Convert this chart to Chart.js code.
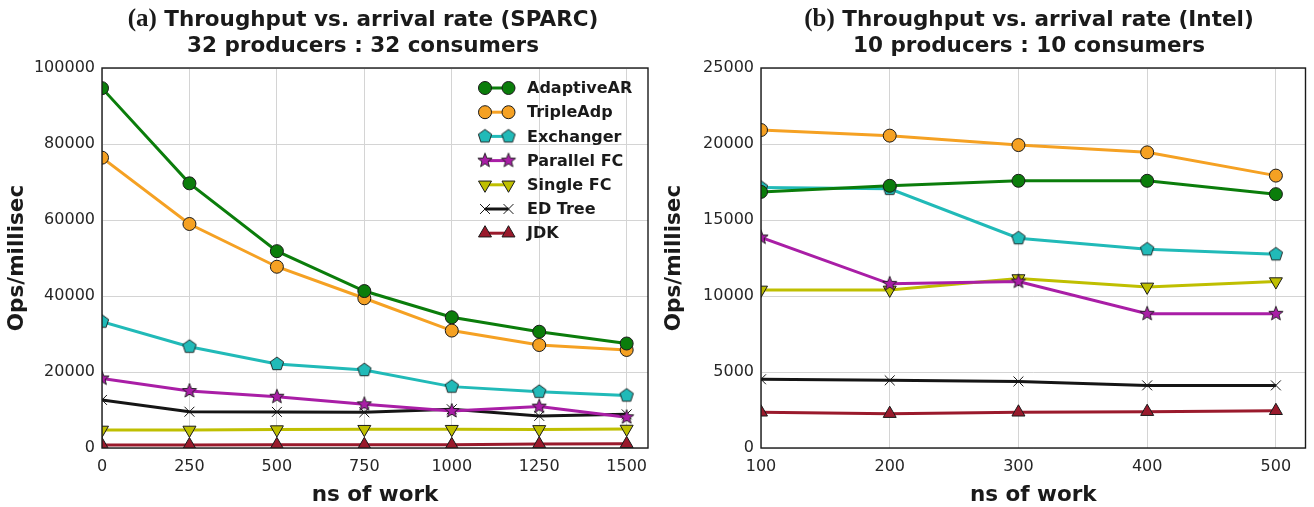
<!DOCTYPE html>
<html>
<head>
<meta charset="utf-8">
<script src="https://cdn.jsdelivr.net/npm/chart.js@4.4.1/dist/chart.umd.min.js"></script>
<style>
  html, body { margin: 0; padding: 0; background: #ffffff; }
  #wrap { position: relative; width: 1314px; height: 507px; overflow: hidden; }
  canvas { position: absolute; top: 0; }
</style>
</head>
<body>
<div id="wrap">
  <canvas id="chartSparc" width="657" height="507" style="left:0px"></canvas>
  <canvas id="chartIntel" width="657" height="507" style="left:657px"></canvas>
</div>
<script>
// ---- data -------------------------------------------------------------
const seriesNames = ['AdaptiveAR', 'TripleAdp', 'Exchanger', 'Parallel FC', 'Single FC', 'ED Tree', 'JDK'];

// (a) SPARC, 32 producers : 32 consumers
const workSparc = [0, 250, 500, 750, 1000, 1250, 1500];
const sparcAdaptiveAR = [94700, 69650, 51800, 41300, 34400, 30600, 27500];
const sparcTripleAdp  = [76400, 58950, 47700, 39400, 30900, 27100, 25800];
const sparcExchanger  = [33250, 26650, 22100, 20500, 16150, 14800, 13800];
const sparcParallelFC = [18300, 15000, 13500, 11500, 9750, 10900, 8100];
const sparcSingleFC   = [4750, 4750, 4850, 4950, 4950, 4900, 5000];
const sparcEDTree     = [12650, 9550, 9500, 9400, 10200, 8450, 8850];
const sparcJDK        = [800, 800, 850, 850, 850, 1050, 1100];

// (b) Intel, 10 producers : 10 consumers
const workIntel = [100, 200, 300, 400, 500];
const intelAdaptiveAR = [16850, 17250, 17580, 17580, 16700];
const intelTripleAdp  = [20920, 20550, 19930, 19450, 17920];
const intelExchanger  = [17130, 17050, 13800, 13070, 12740];
const intelParallelFC = [13850, 10800, 10950, 8830, 8830];
const intelSingleFC   = [10400, 10400, 11150, 10600, 10950];
const intelEDTree     = [4520, 4450, 4380, 4120, 4120];
const intelJDK        = [2350, 2260, 2350, 2390, 2450];

// tick labels
const xTicksSparc = [0, 250, 500, 750, 1000, 1250, 1500];
const yTicksSparc = [0, 20000, 40000, 60000, 80000, 100000];
const xTicksIntel = [100, 200, 300, 400, 500];
const yTicksIntel = [0, 5000, 10000, 15000, 20000, 25000];

// ---- marker shapes ------------------------------------------------------
function polygonMarker(points, fill) {
  const c = document.createElement('canvas');
  c.width = 18; c.height = 18;
  const g = c.getContext('2d');
  g.beginPath();
  points.forEach(([px, py], i) => { if (i === 0) g.moveTo(9 + px, 9 + py); else g.lineTo(9 + px, 9 + py); });
  g.closePath();
  g.fillStyle = fill; g.fill();
  g.lineWidth = 0.9; g.strokeStyle = '#1a1a1a'; g.stroke();
  return c;
}
function pentagon(r, fill) {
  const pts = [];
  for (let k = 0; k < 5; k++) {
    const a = -Math.PI / 2 + k * 2 * Math.PI / 5;
    pts.push([r * Math.cos(a), r * Math.sin(a)]);
  }
  return polygonMarker(pts, fill);
}
function star(ro, ri, fill) {
  const pts = [];
  for (let k = 0; k < 10; k++) {
    const a = -Math.PI / 2 + k * Math.PI / 5;
    const r = k % 2 === 0 ? ro : ri;
    pts.push([r * Math.cos(a), r * Math.sin(a)]);
  }
  return polygonMarker(pts, fill);
}

const palette = {
  AdaptiveAR: '#0b7d0b',
  TripleAdp: '#f5a123',
  Exchanger: '#21bab8',
  ParallelFC: '#a91ea6',
  SingleFC: '#bfbf00',
  EDTree: '#151515',
  JDK: '#9a1a2c'
};

const styles = [
  { color: palette.AdaptiveAR, pointStyle: 'circle', radius: 6.5, rotation: 0, fill: palette.AdaptiveAR },
  { color: palette.TripleAdp, pointStyle: 'circle', radius: 6.5, rotation: 0, fill: palette.TripleAdp },
  { color: palette.Exchanger, pointStyle: pentagon(7, palette.Exchanger), radius: 7, rotation: 0, fill: palette.Exchanger },
  { color: palette.ParallelFC, pointStyle: star(7.5, 3.2, palette.ParallelFC), radius: 7, rotation: 0, fill: palette.ParallelFC },
  { color: palette.SingleFC, pointStyle: 'triangle', radius: 7.5, rotation: 180, fill: palette.SingleFC },
  { color: palette.EDTree, pointStyle: 'crossRot', radius: 7, rotation: 0, fill: palette.EDTree },
  { color: palette.JDK, pointStyle: 'triangle', radius: 7.5, rotation: 0, fill: palette.JDK }
];

function buildDatasets(xs, seriesList) {
  return seriesList.map((vals, i) => {
    const s = styles[i];
    return {
      label: seriesNames[i],
      data: xs.map((x, j) => ({ x: x, y: vals[j] })),
      borderColor: s.color,
      backgroundColor: s.fill,
      borderWidth: 3,
      pointStyle: s.pointStyle,
      pointRadius: s.radius,
      pointRotation: s.rotation,
      pointBackgroundColor: s.fill,
      pointBorderColor: s.pointStyle === 'crossRot' ? '#151515' : '#1a1a1a',
      pointBorderWidth: 1,
      tension: 0,
      fill: false
    };
  });
}

// ---- plugins -----------------------------------------------------------
const FONT = '"DejaVu Sans", sans-serif';

const frameTitlePlugin = {
  id: 'frameTitle',
  afterDraw(chart, args, opts) {
    const ctx = chart.ctx;
    const a = chart.chartArea;
    ctx.save();
    // axes frame on all four sides
    ctx.strokeStyle = '#1a1a1a';
    ctx.lineWidth = 1.4;
    ctx.strokeRect(a.left, a.top, a.right - a.left, a.bottom - a.top);
    // two-line title with a serif panel tag
    ctx.fillStyle = '#1a1a1a';
    ctx.textBaseline = 'middle';
    ctx.textAlign = 'left';
    const serif = 'bold 25px "Liberation Serif", serif';
    const sans = 'bold 21.5px ' + FONT;
    ctx.font = serif;
    const wTag = ctx.measureText(opts.tag).width;
    ctx.font = sans;
    const wSp = ctx.measureText(' ').width;
    const wMain = ctx.measureText(opts.main).width;
    const x0 = opts.cx - (wTag + wSp + wMain) / 2;
    ctx.font = serif;
    ctx.fillText(opts.tag, x0, opts.y1);
    ctx.font = sans;
    ctx.fillText(opts.main, x0 + wTag + wSp, opts.y1);
    ctx.textAlign = 'center';
    ctx.fillText(opts.sub, opts.cx, opts.y2);
    ctx.restore();
  }
};

const pairLegendPlugin = {
  id: 'pairLegend',
  afterDatasetsDraw(chart, args, opts) {
    if (!opts || !opts.show) return;
    const ctx = chart.ctx;
    ctx.save();
    chart.data.datasets.forEach((ds, i) => {
      const y = opts.y0 + i * opts.step;
      ctx.strokeStyle = ds.borderColor;
      ctx.lineWidth = 3;
      ctx.beginPath();
      ctx.moveTo(opts.xa, y);
      ctx.lineTo(opts.xb, y);
      ctx.stroke();
      [opts.xa, opts.xb].forEach(x => {
        ctx.fillStyle = ds.pointBackgroundColor;
        ctx.strokeStyle = ds.pointBorderColor;
        ctx.lineWidth = ds.pointBorderWidth;
        Chart.helpers.drawPoint(ctx, {
          pointStyle: ds.pointStyle,
          rotation: ds.pointRotation,
          radius: ds.pointRadius,
          borderWidth: ds.pointBorderWidth
        }, x, y);
      });
      ctx.fillStyle = '#1a1a1a';
      ctx.font = 'bold 16px ' + FONT;
      ctx.textAlign = 'left';
      ctx.textBaseline = 'middle';
      ctx.fillText(ds.label, opts.xt, y + 1);
    });
    ctx.restore();
  }
};

Chart.register(frameTitlePlugin, pairLegendPlugin);

function makeChart(id, cfg) {
  return new Chart(document.getElementById(id), {
    type: 'line',
    data: { datasets: buildDatasets(cfg.xs, cfg.series) },
    options: {
      responsive: false,
      animation: false,
      devicePixelRatio: 1,
      layout: { padding: { top: 68, right: cfg.padRight, bottom: 0, left: 0 } },
      plugins: {
        legend: { display: false },
        tooltip: { enabled: false },
        title: { display: false },
        frameTitle: cfg.title,
        pairLegend: cfg.legend
      },
      scales: {
        x: {
          type: 'linear',
          min: cfg.xMin,
          max: cfg.xMax,
          afterBuildTicks: s => { s.ticks = cfg.xTicks.map(v => ({ value: v })); },
          afterFit: s => { s.height = 59; },
          grid: { color: '#d4d4d4', lineWidth: 1, drawTicks: false },
          border: { display: false },
          ticks: {
            autoSkip: false, maxRotation: 0, padding: 9,
            color: '#262626', font: { family: FONT, size: 16 },
            callback: v => String(v)
          },
          title: {
            display: true, text: 'ns of work', color: '#1a1a1a',
            font: { family: FONT, size: 21.5, weight: 'bold', lineHeight: 1.0 },
            padding: { top: 0, bottom: 0.5 }
          }
        },
        y: {
          type: 'linear',
          min: 0,
          max: cfg.yMax,
          afterBuildTicks: s => { s.ticks = cfg.yTicks.map(v => ({ value: v })); },
          afterFit: s => { s.width = cfg.yWidth; },
          grid: { color: '#d4d4d4', lineWidth: 1, drawTicks: false },
          border: { display: false },
          ticks: {
            autoSkip: false, padding: 7,
            color: '#262626', font: { family: FONT, size: 16 },
            callback: v => String(v)
          },
          title: {
            display: true, text: 'Ops/millisec', color: '#1a1a1a',
            font: { family: FONT, size: 21.5, weight: 'bold', lineHeight: 1.2 },
            padding: { top: 5, bottom: 0 }
          }
        }
      }
    }
  });
}

makeChart('chartSparc', {
  xs: workSparc,
  series: [sparcAdaptiveAR, sparcTripleAdp, sparcExchanger, sparcParallelFC, sparcSingleFC, sparcEDTree, sparcJDK],
  xMin: 0, xMax: 1561, yMax: 100000,
  xTicks: xTicksSparc, yTicks: yTicksSparc,
  yWidth: 102, padRight: 9,
  title: { tag: '(a)', main: 'Throughput vs. arrival rate (SPARC)', sub: '32 producers : 32 consumers', cx: 363, y1: 20, y2: 46 },
  legend: { show: true, y0: 88, step: 24.2, xa: 485, xb: 508.5, xt: 527 }
});

makeChart('chartIntel', {
  xs: workIntel,
  series: [intelAdaptiveAR, intelTripleAdp, intelExchanger, intelParallelFC, intelSingleFC, intelEDTree, intelJDK],
  xMin: 100, xMax: 523, yMax: 25000,
  xTicks: xTicksIntel, yTicks: yTicksIntel,
  yWidth: 104, padRight: 7,
  title: { tag: '(b)', main: 'Throughput vs. arrival rate (Intel)', sub: '10 producers : 10 consumers', cx: 372, y1: 20, y2: 46 },
  legend: { show: false }
});
</script>
</body>
</html>
